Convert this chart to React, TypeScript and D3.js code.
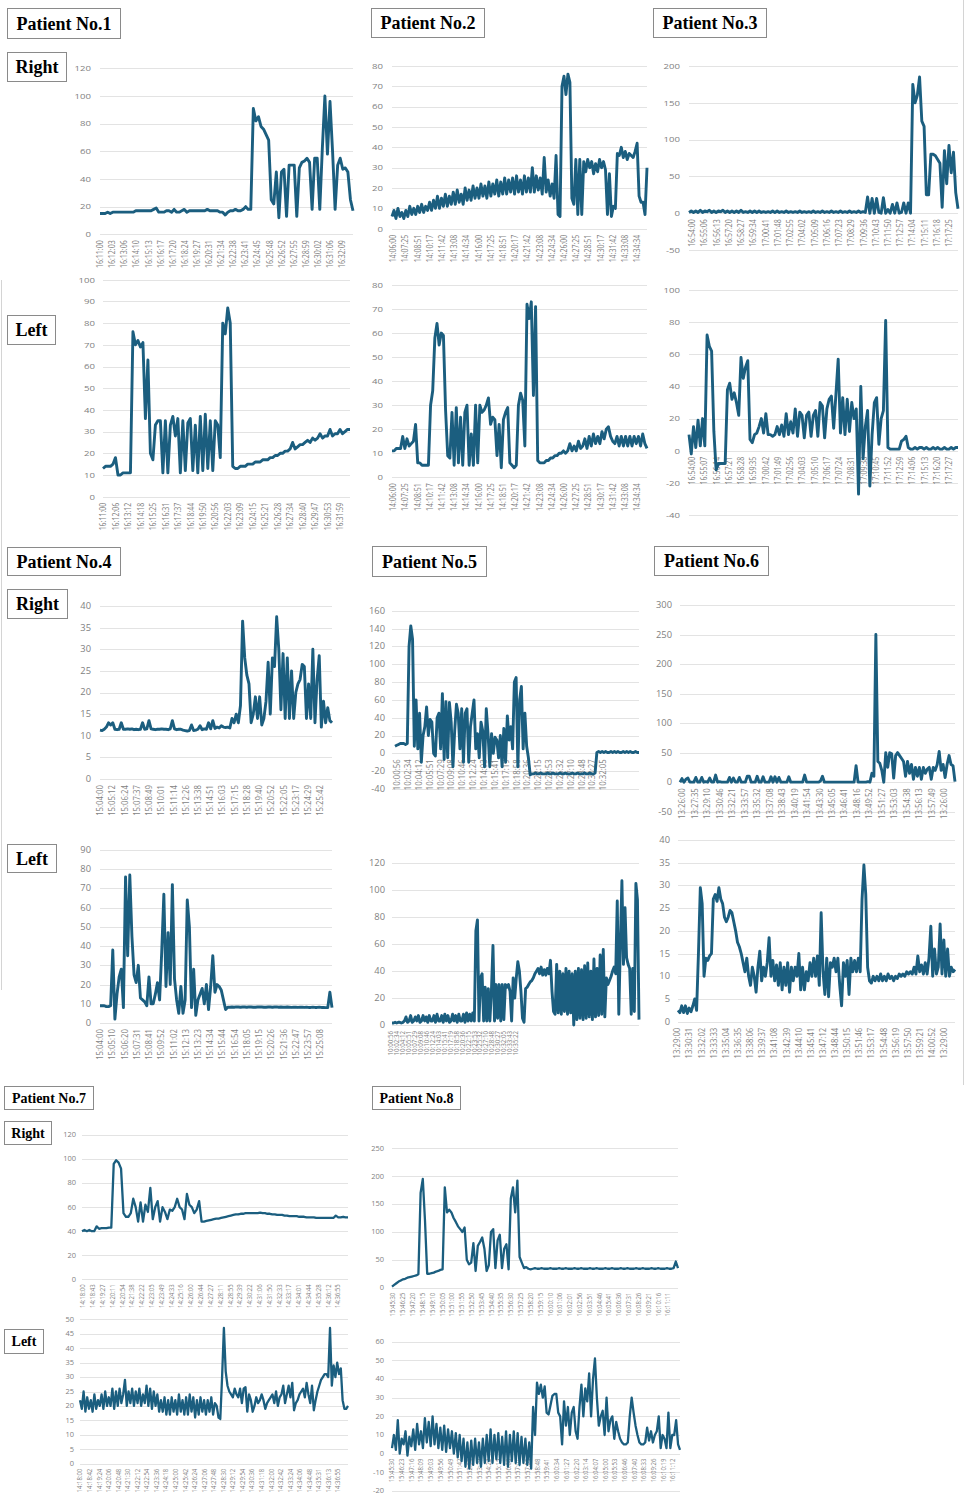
import { useEffect, useRef } from "react"
import * as d3 from "d3"

// ---------- Patient 1 ----------
const p1RightTimes = ["16:11:00","16:12:03","16:13:06","16:14:10","16:15:13","16:16:17","16:17:20","16:18:24","16:19:27","16:20:31","16:21:34","16:22:38","16:23:41","16:24:45","16:25:48","16:26:52","16:27:55","16:28:59","16:30:02","16:31:06","16:32:09"]
const p1RightValues = [
  15,15,15,16,15,16,16,16,16,16, 16,16,16,16,17,17,17,17,17,17,
  17,18,19,16,16,16,17,17,16,18, 16,16,17,18,16,17,17,17,17,17,
  17,17,18,17,17,17,17,16,16,14, 16,17,17,18,17,17,18,20,18,18,
  91,82,85,78,76,72,68,25,22,45, 12,45,47,13,50,50,50,13,48,52,
  53,55,52,18,55,55,18,62,100,58, 96,60,18,50,55,47,48,45,25,17,
]
const p1LeftTimes = ["16:11:00","16:12:06","16:13:12","16:14:18","16:15:25","16:16:31","16:17:37","16:18:44","16:19:50","16:20:56","16:22:03","16:23:09","16:24:15","16:25:21","16:26:28","16:27:34","16:28:40","16:29:47","16:30:53","16:31:59"]
const p1LeftValues = [
  13,14,14,14,15,18,10,10,11,11,11,11,
  76,70,72,69,71,36,63,20,17,33,35,35,11,35,11,33,37,28,36,11,35,12,34,36,12,33,11,37,12,38,13,35,12,35,33,18,80,75,87,80,14,
  13,13,14,14,14,15,15,15,16,16,16,17,17,17,18,18,19,19,20,20,21,21,22,25,22,23,24,24,25,26,25,27,26,27,29,27,28,28,31,28,29,29,31,29,30,31,31,
]

// ---------- Patient 2 ----------
const p2Times = ["14:06:00","14:07:25","14:08:51","14:10:17","14:11:42","14:13:08","14:14:34","14:16:00","14:17:25","14:18:51","14:20:17","14:21:42","14:23:08","14:24:34","14:26:00","14:27:25","14:28:51","14:30:17","14:31:42","14:33:08","14:34:34"]
const p2RightValues = [
  6,9,5,10,6,8,5,9,6,11, 7,10,7,11,8,12,8,11,9,13,
  9,14,10,16,10,15,11,17,11,16, 12,18,12,19,13,17,12,20,14,19,
  14,21,15,20,15,22,16,21,15,23, 16,22,17,24,16,23,17,25,17,24,
  18,25,17,26,18,24,17,26,18,25, 18,30,18,26,19,25,17,35,18,24,
  16,22,15,36,7,6,70,75,66,76, 72,15,12,34,7,34,7,33,28,34,
  30,33,27,32,28,34,30,33,29,7, 27,6,11,10,37,36,40,35,38,34,
  37,36,35,38,42,16,13,13,7,30,
]
const p2LeftValues = [
  11,11,12,12,12,17,12,16,13,14, 15,22,6,6,5,5,5,5,30,36,
  58,64,55,60,59,28,9,8,27,5, 29,6,25,5,27,30,5,18,5,30,
  6,30,27,28,30,33,22,25,24,9, 22,4,24,27,29,6,5,4,5,30,
  35,32,13,72,66,73,34,71,7,6, 6,6,7,7,8,8,9,9,10,10,
  11,10,11,14,11,13,11,15,12,13, 16,12,17,13,18,14,17,14,19,16,
  20,21,17,15,14,17,13,17,13,17, 13,17,13,17,14,17,13,18,14,12,
]

// ---------- Patient 3 ----------
const p3RightTimes = ["16:54:00","16:55:06","16:56:13","16:57:20","16:58:27","16:59:34","17:00:41","17:01:48","17:02:55","17:04:02","17:05:09","17:06:16","17:07:23","17:08:29","17:09:36","17:10:43","17:11:50","17:12:57","17:14:04","17:15:11","17:16:18","17:17:25"]
const p3RightValues = [
  1,3,1,3,1,4,1,3,2,4, 1,3,1,3,2,4,1,3,1,3, 1,3,1,4,1,2,1,3,1,3,
  1,3,1,2,1,2,1,3,1,3, 1,2,1,3,1,2,1,2,1,3, 1,2,1,2,1,3,1,2,1,3,
  1,2,1,3,1,2,1,3,1,2, 1,3,1,2,1,3,1,2,1,
  22,0,20,0,20,1,0,21,0,5,0,
  12,0,14,0,1,14,0,14,0,175,
  150,160,185,125,118,25,25,80,80,78,
  73,68,8,85,40,92,55,83,28,6,
]
const p3LeftTimes = ["16:54:00","16:55:07","16:56:14","16:57:21","16:58:28","16:59:35","17:00:42","17:01:49","17:02:56","17:04:03","17:05:10","17:06:17","17:07:24","17:08:31","17:09:38","17:10:45","17:11:52","17:12:59","17:14:06","17:15:13","17:16:20","17:17:27"]
const p3LeftValues = [
  10,-2,15,2,19,3,20,3,72,65, 62,12,-12,-8,-8,-8,-8,38,42,32,
  36,30,22,58,45,52,56,7,5,10, 11,15,20,11,23,10,10,9,10,15,
  10,16,9,23,10,18,11,26,9,24, 22,8,22,24,9,22,25,9,30,28,
  8,26,32,34,14,35,57,11,33,10, 32,12,30,20,26,-27,40,-5,15,25,
  -22,10,30,33,4,20,25,81,2,1, 1,1,1,1,6,7,9,2,1,1,
  2,1,2,2,1,2,1,1,2,1, 2,1,1,2,1,1,2,1,2,2,
]

// ---------- Patient 4 ----------
const p4RightTimes = ["15:04:00","15:05:12","15:06:24","15:07:37","15:08:49","15:10:01","15:11:14","15:12:26","15:13:38","15:14:51","15:16:03","15:17:15","15:18:28","15:19:40","15:20:52","15:22:05","15:23:17","15:24:29","15:25:42"]
const p4RightValues = [
  11.3,11.2,11.5,12,13,12.5,13,11.5,11.4,11.5, 13,11.5,11.5,11.6,11.5,11.6,11.4,11.5,11.4,11.5,
  13,11.5,11.6,13.5,11.6,11.5,11.4,11.5,11.5,11.6, 11.5,11.5,11.4,11.6,13.5,11.6,11.4,11.5,11.5,11.3,
  11.2,11.1,11.2,12.5,11.2,11.3,11.5,12.3,11.4,11.6, 11.5,13,11.6,13.5,11.7,12,11.8,12.3,12,11.9,
  12,11.8,14,13,15,13,17,36.5,28,24, 22,13,15,19,14,19,12.5,14,18,27,
  15,28,26,37.5,30,16,29,14,28,14, 25,14,20,22,23,26.5,26,14,22,14,
  30,13,23,28.5,12,18,13,16.5,13.5,13,
]
const p4LeftTimes = ["15:04:00","15:05:10","15:06:20","15:07:31","15:08:41","15:09:52","15:11:02","15:12:13","15:13:23","15:14:34","15:15:44","15:16:54","15:18:05","15:19:15","15:20:26","15:21:36","15:22:47","15:23:57","15:25:08"]
const p4LeftValues = [
  9,9,9,8.5,8.5,9,38,2,15,24, 28,8,76,35,77,45,25,21,30,13,
  12,11,9,24,10,10,15,21,12,37, 67,19,47,20,72,23,12,5,19,5,
  12,64,50,8,28,4,12,15,18,10, 20,7,19,35,16,20,19,17,12,7,
  8.2,8.2,8.3,8.2,8.4,8.3,8.2,8.3,8.3,8.2, 8.4,8.3,8.2,8.2,8.3,8.4,8.3,8.2,8.2,8.3,
  8.3,8.2,8.3,8.4,8.2,8.3,8.2,8.2,8.3,8.2, 8.1,8.2,8.2,8.1,8.2,8.2,8.1,8.2,8.1,8.1,
  8.2,8.1,8.1,8.2,8.1,8.1, 8,8,16,8,
]

// ---------- Patient 5 ----------
const p5RightTimes = ["10:00:56","10:02:34","10:04:12","10:05:51","10:07:29","10:09:08","10:10:46","10:12:24","10:14:03","10:15:41","10:17:19","10:18:58","10:20:36","10:22:15","10:23:53","10:25:32","10:27:10","10:28:48","10:30:27","10:32:05"]
const p5RightValues = [
  8,9,10,11,11,11,10,11,120,143, 128,8,60,5,45,-10,20,30,52,20,
  38,35,0,-3,40,45,5,67,-7,58, -5,57,35,-15,25,55,45,5,50,-10,
  45,50,-10,30,45,60,5,22,-5,35, 25,-15,50,22,-15,22,0,18,15,-5,
  20,-15,28,-10,42,15,30,5,80,85, -15,60,75,5,45,8,-5,-24,
  -23,-23,-22,-23,-23,-22,-23,-23,-23,-22,-23,-23,-22,-23,-23,-23,-22,-23,
  -23,-22,-23,-23,-23,-22,-23,-23,-22,-23,-23,-23,-22,-23,-23,-22,-23,-23,
  -22,
  1,2,1,2,1,2,1,1,2,1,2,1,2,1,1,2,1,2,1,2,1,1,2,1,1,
]
const p5LeftTimes = ["10:00:56","10:02:34","10:04:12","10:05:51","10:07:29","10:09:08","10:10:46","10:12:24","10:14:03","10:15:41","10:17:19","10:18:58","10:20:36","10:22:15","10:23:53","10:25:32","10:27:10","10:28:48","10:30:27","10:32:05","10:33:43","10:35:22"]
const p5LeftValues = [
  1.5,1.5,2,1.5,2,2,1.5,2,
  3,6,2,3,7,2,3,6,3,7,2,3,7,3,6,2,7,3,3,7,2,8,3,3,7,2,8,3,7,2,3,8,3,7,2,8,3,3,8,2,9,3,8,3,9,3,
  70,78,3,35,38,3,28,3,27,3,25,59,3,30,5,30,3,30,4,30,28,30,25,3,35,20,35,47,40,25,5,2,
  27,28,30,32,33,35,38,40,42,38,43,37,41,37,42,38,48,25,10,
  8,45,9,40,8,38,10,42,8,40,9,38,0,40,4,42,5,41,4,44,5,46,6,40,4,49,6,42,7,52,8,56,6,
  35,30,33,36,40,43,38,92,8,60,107,45,87,50,45,42,8,42,10,105,93,4,
]

// ---------- Patient 6 ----------
const p6RightTimes = ["13:26:00","13:27:35","13:29:10","13:30:46","13:32:21","13:33:57","13:35:32","13:37:08","13:38:43","13:40:19","13:41:54","13:43:30","13:45:05","13:46:41","13:48:16","13:49:52","13:51:27","13:53:03","13:54:38","13:56:13","13:57:49","13:26:00"]
const p6RightValues = [
  0,6,0,5,7,0,0,0,8,0, 0,8,0,1,0,7,0,0,12,0,
  1,0,0,0,0,8,0,7,0,0, 8,0,0,0,10,10,0,0,0,10,
  0,0,9,0,0,0,9,0,9,0, 8,0,0,0,0,9,0,0,0,0,
  0,0,0,12,0,0,0,0,0,0, 0,2,10,0,0,0,0,0,0,0,
  0,0,0,0,0,0,0,0,0,28, 0,0,0,0,0,1,0,15,10,250,
  35,32,20,0,50,25,50,48,7,45, 50,45,40,35,10,35,15,30,5,25,
  10,25,5,25,15,22,25,5,25,20, 30,52,20,30,8,30,45,30,28,1,
]
const p6LeftTimes = ["13:29:00","13:30:31","13:32:02","13:33:33","13:35:04","13:36:35","13:38:06","13:39:37","13:41:08","13:42:39","13:44:10","13:45:41","13:47:12","13:48:44","13:50:15","13:51:46","13:53:17","13:54:48","13:56:19","13:57:50","13:59:21","14:00:52","13:29:00"]
const p6LeftValues = [
  2.5,2,3.5,2,3.5,1.8,3,2.2,3.5,5, 2.5,15,29.5,26,10,14,13.5,14.5,15,27,
  28,26.5,29.5,27,26,23,22,23,24.5,24, 22,20,17.5,16.5,15,13,11,14,10,8,
  12,10,6.5,12,15.5,9,12,10,13,18.5, 10,13.5,9,12.5,8,13,7,12,8,13,
  6.5,12,9,12,10,15,7,12,7,11, 9,13,10,14,10,14.5,8,24,11,6,
  14,5.5,13,12,14,11,14,8,3.5,13, 10,13.5,6,14,11,13.5,11,14,11,27,
  34.5,28,12,9,8.5,10,9,10,9,10.5, 9,10,9,10.5,9.5,10,9,10,9.5,10.5,
  10,10.5,10,11,10.5,11,10.5,12,10.5,14.5, 11,12.5,10.5,13,10.5,14,21,10,16,10.5,
  12,21.5,10.5,18,10,16,10,12,11,11.5,
]

// ---------- Patient 7 ----------
const p7RightTimes = ["14:18:00","14:18:43","14:19:27","14:20:11","14:20:54","14:21:38","14:22:22","14:23:05","14:23:49","14:24:33","14:25:16","14:26:00","14:26:44","14:27:27","14:28:11","14:28:55","14:29:39","14:30:22","14:31:06","14:31:50","14:32:33","14:33:17","14:34:01","14:34:44","14:35:28","14:36:12","14:36:55"]
const p7RightValues = [
  40,41,40,41,40,40,44,42,42.5,42.5, 42.5,43,43,96,99,97,92,55,52,52,
  55,67,60,48,64,48,62,56,76,50, 60,65,48,60,56,50,58,57,60,67,
  60,58,50,71,62,60,55,58,65,48, 48,48.5,49,49.5,50,50.5,50.5,51,51.5,52,
  52.5,53,53.5,54,54,54.5,54.5,55,55,55, 55,55,55,55.5,55,55,54.5,54.5,54,54,
  53.5,53.5,53.5,53,53,52.5,52.5,52.5,52.5,52, 52,52,51.5,51.5,51.5,51.5,51,51,51,51,
  51,51,51,51,53,51.5,51.5,52,51.5,51.5,
]
const p7LeftTimes = ["14:18:00","14:18:42","14:19:24","14:20:06","14:20:48","14:21:30","14:22:12","14:22:54","14:23:36","14:24:18","14:25:00","14:25:42","14:26:24","14:27:06","14:27:48","14:28:30","14:29:12","14:29:54","14:30:36","14:31:18","14:32:00","14:32:42","14:33:24","14:34:06","14:34:48","14:35:31","14:36:13","14:36:55"]
const p7LeftValues = [
  22,19,25,18,23,19,22,18,24,19, 22,20,24,19,25,20,23,20,26,19,
  25,20,26,21,24,29,20,25,21,26, 20,25,21,26,20,24,21,27,20,26,
  19,25,20,24,18,22,18,23,17,22, 17,23,18,22,17,24,18,22,17,23,
  17,24,18,23,16,22,17,23,18,22, 17,22,18,23,17,21,20,16,15.5,30,
  47,32,27,25,24,23,26,24,23,26, 21,26,26.5,18,24,22,18,20,23,21,
  22,24,22,19,21,22,23,24,21,25, 20,23,24,27,21,24,27,23,28,18.5,
  21,22,24,25,26,23,28,24,21,27, 18.5,22,25,27,29,30,31,31,30,47,
  27,34,30,35,31,33,22,19,19,20,
]

// ---------- Patient 8 ----------
const p8RightTimes = ["15:45:30","15:46:25","15:47:20","15:48:15","15:49:10","15:50:05","15:51:00","15:51:55","15:52:50","15:53:45","15:54:40","15:55:35","15:56:30","15:57:25","15:58:20","15:59:15","16:00:10","16:01:06","16:02:01","16:02:56","16:03:51","16:04:46","16:05:41","16:06:36","16:07:31","16:08:26","16:09:21","16:10:16","16:11:11"]
const p8RightValues = [
  2,5,8,11,13,15,16,18,19,20, 21,22,24,170,195,120,25,25,26,27,
  29,30,32,33,180,135,140,135,125,118, 110,105,100,108,50,42,45,80,30,75,
  82,90,70,30,40,100,105,35,85,95, 35,70,78,33,160,180,135,192,55,45,
  35,37,34,33,
  34,35,34,34,35,34,34,34,35,34, 34,34,35,34,34,35,34,34,34,35,
  34,34,35,34,34,34,35,34,34,35, 34,34,34,35,34,34,35,34,34,34,
  35,34,34,35,34,34,34,35,34,34, 35,34,34,34,35,34,34,35,34,34,
  34,35,34,
  34,35,47,35,
]
const p8LeftTimes = ["15:45:30","15:46:23","15:47:16","15:48:09","15:49:03","15:49:56","15:50:49","15:51:42","15:52:35","15:53:29","15:54:22","15:55:15","15:56:08","15:57:01","15:57:55","15:58:48","15:59:41","16:00:34","16:01:27","16:02:20","16:03:14","16:04:07","16:05:00","16:05:53","16:06:46","16:07:40","16:08:33","16:09:26","16:10:19","16:11:12"]
const p8LeftValues = [
  3,10,2,18,0,8,5,12,-1,9, 4,13,2,16,5,12,3,19,6,17,
  4,20,5,16,3,14,2,15,1,13, 3,12,0,11,-2,10,-4,8,-7,6,
  -8,7,-6,8,-5,6,-7,8,-5,10, -4,13,-5,10,-3,11,-5,9,-6,12,
  -7,10,-4,12,-5,11,-6,9,-5,8, -6,6,-8,25,10,38,32,37,30,36,
  22,21,26,31,32,32,22,20,5,28, 15,25,10,22,25,12,8,25,37,20,
  35,28,43,20,40,51,30,15,20,23, 10,30,12,18,20,8,17,12,8,6,
  5,5,6,20,30,22,15,10,6,5, 5,6,14,7,12,6,10,12,20,3,
  10,8,3,22,3,10,10,18,5,2,
]

// ---------- layout ----------
const LINE_COLOR = "#1b5e7f"
const TICK_COLOR = "#7f7f7f"
const GRID_COLOR = "#e3e3e3"
const SANS = "'Open Sans', 'DejaVu Sans', sans-serif"

const rowStyles: Record<number, any> = {
  1: { yFont: 8, yScaleX: 1.2, xFont: 7, xStretch: 1.3, gap: 6, stroke: 2.9 },
  2: { yFont: 8.5, yScaleX: 1.1, xFont: 7.8, xStretch: 1.2, gap: 6, stroke: 2.9 },
  3: { yFont: 6.8, yScaleX: 1.1, xFont: 6, xStretch: 1.15, gap: 5, stroke: 2.3 },
}

interface Panel {
  values: number[]
  labels: string[]
  min: number
  max: number
  step: number
  top: number
  bottom: number
  left: number
  right: number
  dataLeft?: number
  labelLeft: number
  labelRight: number
  tickX: number
  row: number
  xFont?: number
  xStretch?: number
}

const panels: Panel[] = [
  { values: p1RightValues, labels: p1RightTimes, min: 0, max: 120, step: 20, top: 68.3, bottom: 234.3, left: 100, right: 353, labelLeft: 100, labelRight: 342, tickX: 91, row: 1 },
  { values: p1LeftValues, labels: p1LeftTimes, min: 0, max: 100, step: 10, top: 279.7, bottom: 496.7, left: 103, right: 350, labelLeft: 103, labelRight: 340, tickX: 95, row: 1 },
  { values: p2RightValues, labels: p2Times, min: 0, max: 80, step: 10, top: 66, bottom: 228.7, left: 392, right: 647, labelLeft: 393, labelRight: 637, tickX: 383, row: 1 },
  { values: p2LeftValues, labels: p2Times, min: 0, max: 80, step: 10, top: 285, bottom: 477.3, left: 392, right: 647, labelLeft: 393, labelRight: 637, tickX: 383, row: 1 },
  { values: p3RightValues, labels: p3RightTimes, min: -50, max: 200, step: 50, top: 66, bottom: 250, left: 689, right: 958, labelLeft: 692, labelRight: 949, tickX: 680, row: 1 },
  { values: p3LeftValues, labels: p3LeftTimes, min: -40, max: 100, step: 20, top: 290, bottom: 515, left: 689, right: 958, labelLeft: 692, labelRight: 949, tickX: 680, row: 1 },
  { values: p4RightValues, labels: p4RightTimes, min: 0, max: 40, step: 5, top: 606, bottom: 779, left: 100, right: 332, labelLeft: 100, labelRight: 320, tickX: 91, row: 2 },
  { values: p4LeftValues, labels: p4LeftTimes, min: 0, max: 90, step: 10, top: 850, bottom: 1023, left: 100, right: 332, labelLeft: 100, labelRight: 320, tickX: 91, row: 2 },
  { values: p5RightValues, labels: p5RightTimes, min: -40, max: 160, step: 20, top: 610.7, bottom: 789, left: 392, right: 639, dataLeft: 395, labelLeft: 397, labelRight: 603, tickX: 385, row: 2 },
  { values: p5LeftValues, labels: p5LeftTimes, min: 0, max: 120, step: 20, top: 863.3, bottom: 1025, left: 392, right: 639, labelLeft: 391, labelRight: 516, tickX: 385, row: 2, xFont: 6.2, xStretch: 1 },
  { values: p6RightValues, labels: p6RightTimes, min: -50, max: 300, step: 50, top: 605, bottom: 811.7, left: 680, right: 955, labelLeft: 682, labelRight: 944, tickX: 672, row: 2 },
  { values: p6LeftValues, labels: p6LeftTimes, min: 0, max: 40, step: 5, top: 840, bottom: 1021.7, left: 678, right: 955, labelLeft: 677, labelRight: 944, tickX: 670, row: 2 },
  { values: p7RightValues, labels: p7RightTimes, min: 0, max: 120, step: 20, top: 1135, bottom: 1279.3, left: 82, right: 348, labelLeft: 83, labelRight: 338, tickX: 76, row: 3 },
  { values: p7LeftValues, labels: p7LeftTimes, min: 0, max: 50, step: 5, top: 1319.3, bottom: 1463.7, left: 80, right: 348, labelLeft: 80, labelRight: 338, tickX: 74, row: 3 },
  { values: p8RightValues, labels: p8RightTimes, min: 0, max: 250, step: 50, top: 1148.3, bottom: 1287.7, left: 392, right: 678, labelLeft: 393, labelRight: 668, tickX: 384, row: 3 },
  { values: p8LeftValues, labels: p8LeftTimes, min: -20, max: 60, step: 10, top: 1341.7, bottom: 1491, left: 392, right: 680, labelLeft: 392, labelRight: 673, tickX: 384, row: 3 },
]

const boxes = [
  { text: "Patient No.1", x: 7, y: 8, w: 113, h: 30, size: 18 },
  { text: "Right", x: 7, y: 52, w: 59, h: 29, size: 18 },
  { text: "Left", x: 7, y: 315, w: 48, h: 29, size: 18 },
  { text: "Patient No.2", x: 371, y: 8, w: 113, h: 29, size: 18 },
  { text: "Patient No.3", x: 653, y: 8, w: 113, h: 29, size: 18 },
  { text: "Patient No.4", x: 7, y: 547, w: 113, h: 28, size: 18 },
  { text: "Right", x: 7, y: 589, w: 60, h: 29, size: 18 },
  { text: "Left", x: 7, y: 844, w: 49, h: 28, size: 18 },
  { text: "Patient No.5", x: 372, y: 546, w: 114, h: 30, size: 18 },
  { text: "Patient No.6", x: 654, y: 546, w: 114, h: 29, size: 18 },
  { text: "Patient No.7", x: 4, y: 1086, w: 89, h: 23, size: 14 },
  { text: "Right", x: 4, y: 1121, w: 47, h: 23, size: 14 },
  { text: "Left", x: 4, y: 1329, w: 39, h: 24, size: 14 },
  { text: "Patient No.8", x: 372, y: 1086, w: 88, h: 23, size: 14 },
]

function drawPanel(svg: d3.Selection<SVGSVGElement, unknown, null, undefined>, p: Panel) {
  const st = rowStyles[p.row]
  const xFont = p.xFont ?? st.xFont
  const xStretch = p.xStretch ?? st.xStretch
  const g = svg.append("g")

  const y = d3.scaleLinear().domain([p.min, p.max]).range([p.bottom, p.top])
  const x = d3
    .scaleLinear()
    .domain([0, p.values.length - 1])
    .range([p.dataLeft ?? p.left, p.right])
  const lx = d3
    .scalePoint<number>()
    .domain(d3.range(p.labels.length))
    .range([p.labelLeft, p.labelRight])

  const ticks = d3.range(p.min, p.max + p.step / 2, p.step)

  g.selectAll(".grid")
    .data(ticks)
    .enter()
    .append("line")
    .attr("x1", p.left)
    .attr("x2", p.right)
    .attr("y1", (d) => Math.round(y(d)) + 0.5)
    .attr("y2", (d) => Math.round(y(d)) + 0.5)
    .attr("stroke", GRID_COLOR)
    .attr("stroke-width", 1)

  g.selectAll(".ytick")
    .data(ticks)
    .enter()
    .append("text")
    .attr("transform", (d) => `translate(${p.tickX},${y(d)}) scale(${st.yScaleX},1)`)
    .attr("text-anchor", "end")
    .attr("dy", "0.35em")
    .style("font-family", SANS)
    .style("font-size", `${st.yFont}px`)
    .style("fill", TICK_COLOR)
    .text((d) => String(d))

  const labelTop = y(Math.max(0, p.min)) + st.gap
  g.selectAll(".xtick")
    .data(p.labels)
    .enter()
    .append("text")
    .attr("transform", (d, i) => `translate(${lx(i)},${labelTop}) rotate(-90) scale(1,${xStretch})`)
    .attr("text-anchor", "end")
    .attr("dy", "0.35em")
    .style("font-family", SANS)
    .style("font-size", `${xFont}px`)
    .style("fill", TICK_COLOR)
    .text((d) => d)

  const line = d3
    .line<number>()
    .x((d, i) => x(i))
    .y((d) => y(d))

  g.append("path")
    .datum(p.values)
    .attr("fill", "none")
    .attr("stroke", LINE_COLOR)
    .attr("stroke-width", st.stroke)
    .attr("stroke-linejoin", "round")
    .attr("d", line)
}

export default function App() {
  const svgRef = useRef<SVGSVGElement>(null)

  useEffect(() => {
    if (!svgRef.current) return
    document.body.style.margin = "0"
    const svg = d3.select(svgRef.current)
    svg.selectAll("*").remove()

    svg.append("rect").attr("width", 967).attr("height", 1497).attr("fill", "#ffffff")

    // faint frame edges of the pasted panels
    svg.append("line").attr("x1", 963.5).attr("x2", 963.5).attr("y1", 0).attr("y2", 1085).attr("stroke", "#d4d4d4")
    svg.append("line").attr("x1", 1.5).attr("x2", 1.5).attr("y1", 280).attr("y2", 990).attr("stroke", "#d4d4d4")

    panels.forEach((p) => drawPanel(svg, p))

    const b = svg
      .selectAll(".box")
      .data(boxes)
      .enter()
      .append("g")
      .attr("transform", (d) => `translate(${d.x},${d.y})`)

    b.append("rect")
      .attr("x", 0.5)
      .attr("y", 0.5)
      .attr("width", (d) => d.w)
      .attr("height", (d) => d.h)
      .attr("fill", "#ffffff")
      .attr("stroke", "#8a8a8a")
      .attr("stroke-width", 1)

    b.append("text")
      .attr("x", (d) => d.w / 2 + 0.5)
      .attr("y", (d) => d.h / 2 + 0.5)
      .attr("text-anchor", "middle")
      .attr("dy", "0.34em")
      .style("font-family", "'Liberation Serif', 'Times New Roman', serif")
      .style("font-weight", "bold")
      .style("font-size", (d) => `${d.size}px`)
      .style("fill", "#000000")
      .text((d) => d.text)
  }, [])

  return (
    <svg
      ref={svgRef}
      width={967}
      height={1497}
      style={{ position: "absolute", left: 0, top: 0, display: "block" }}
    ></svg>
  )
}
